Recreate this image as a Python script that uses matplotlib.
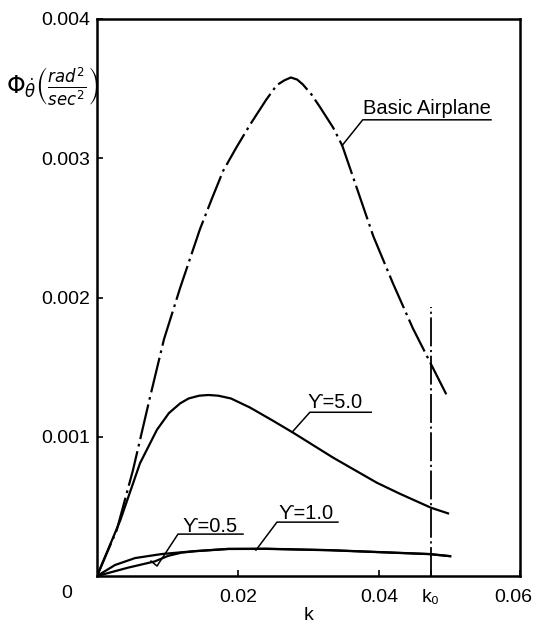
import numpy as np
import matplotlib.pyplot as plt
import matplotlib.transforms as mtransforms

plt.rcParams['font.family'] = ['Liberation Sans', 'DejaVu Sans']
plt.rcParams['mathtext.fontset'] = 'dejavusans'

# values (k, power spectral density)
k_basic = [0, 0.0028, 0.0051, 0.0075, 0.0095, 0.0118, 0.0146, 0.0163, 0.0179, 0.0198,
           0.0217, 0.0240, 0.0255, 0.0266, 0.0275, 0.0284, 0.0292, 0.0304, 0.0316, 0.0335,
           0.0348, 0.0369, 0.0392, 0.0420, 0.0448, 0.0475, 0.0498]
psd_basic = [0, 0.00033, 0.00076, 0.00128, 0.00170, 0.00207, 0.00249, 0.00271, 0.00291, 0.00308,
             0.00324, 0.00342, 0.003525, 0.00356, 0.00358, 0.003565, 0.00353, 0.00346, 0.00337, 0.00322,
             0.00309, 0.00278, 0.00244, 0.00210, 0.00178, 0.00151, 0.00128]

k_g5 = [0, 0.0033, 0.0061, 0.0085, 0.0102, 0.0118, 0.0130, 0.0145, 0.0158, 0.0172,
        0.0190, 0.0217, 0.0248, 0.0278, 0.0335, 0.0397, 0.0430, 0.0474, 0.0498]
psd_g5 = [0, 0.00040, 0.00081, 0.00105, 0.00117, 0.00124, 0.001275, 0.001295, 0.00130, 0.001295,
          0.001275, 0.00121, 0.00112, 0.00103, 0.00085, 0.00067, 0.00059, 0.00049, 0.00045]

k_g1 = [0, 0.00255, 0.0054, 0.0092, 0.0139, 0.0186, 0.0240, 0.0330, 0.0472, 0.0501]
psd_g1 = [0, 0.000079, 0.000129, 0.000158, 0.000179, 0.000195, 0.000196, 0.000186, 0.000158, 0.000143]

k_g05 = [0, 0.0044, 0.0082, 0.0101, 0.0120, 0.0139, 0.0186, 0.0240, 0.0330, 0.0472, 0.0501]
psd_g05 = [0, 0.000060, 0.000105, 0.000145, 0.000168, 0.000178, 0.000194, 0.000195, 0.000185, 0.000157, 0.000142]

k0 = 0.0474
k0_top = 0.00193

xtick_vals = [0.02, 0.04, k0, 0.06]
xtick_text = ['0.02', '0.04', 'k₀', '0.06']
ytick_vals = [0.001, 0.002, 0.003, 0.004]
ytick_text = ['0.001', '0.002', '0.003', '0.004']

fig = plt.figure(figsize=(5.36, 6.27), dpi=100)
ax = fig.add_axes([0.181, 0.0813, 0.789, 0.8884])

ax.plot(k_basic, psd_basic, color='black', lw=1.6, dashes=(16, 2.2, 1.2, 2.2))
ax.plot(k_g5, psd_g5, color='black', lw=1.6)
ax.plot(k_g1, psd_g1, color='black', lw=1.6)
ax.plot(k_g05, psd_g05, color='black', lw=1.6)
ax.plot([k0, k0], [0, k0_top], color='black', lw=1.3, dashes=(16, 2, 1.2, 2))

# labels with underline and leader line
labels = [
    ('Basic Airplane', 0.0377, 0.00332, [0.03475, 0.0377, 0.0559], [0.00309, 0.003276, 0.003276]),
    ('ϒ=5.0', 0.0299, 0.001205, [0.02766, 0.0302, 0.0389], [0.001032, 0.001176, 0.001176]),
    ('ϒ=1.0', 0.0258, 0.000406, [0.02255, 0.02553, 0.03418], [0.000186, 0.000387, 0.000387]),
    ('ϒ=0.5', 0.0121, 0.000318, [0.00766, 0.00851, 0.01149, 0.02071], [0.0001075, 0.0000717, 0.000301, 0.000301]),
]
for txt, tx, ty, lx, ly in labels:
    ax.text(tx, ty, txt, fontsize=14.5, va='baseline', ha='left')
    ax.plot(lx, ly, color='black', lw=1.1)

ax.set_xlim(0, 0.06)
ax.set_ylim(0, 0.004)
ax.set_xticks(xtick_vals)
ax.set_xticklabels(xtick_text, fontsize=14)
ax.set_yticks(ytick_vals)
ax.set_yticklabels(ytick_text, fontsize=14)
ax.tick_params(axis='both', direction='in', length=4, width=1.2)
ax.tick_params(axis='x', pad=9)
ax.tick_params(axis='y', pad=5)
# pull the last x label inside the figure
last = ax.get_xticklabels()[-1]
last.set_transform(last.get_transform() + mtransforms.ScaledTranslation(-5 / 72, 0, fig.dpi_scale_trans))
ax.text(-0.0043, -0.000125, '0', fontsize=14, ha='center', va='center')
for s in ax.spines.values():
    s.set_linewidth(1.8)

ax.set_xlabel('k', fontsize=14, labelpad=1)
fig.text(0.012, 0.86, r'$\Phi_{\dot{\theta}}\left(\frac{rad^2}{sec^2}\right)$', fontsize=17,
         ha='left', va='center')

fig.savefig('out.png', dpi=100)
